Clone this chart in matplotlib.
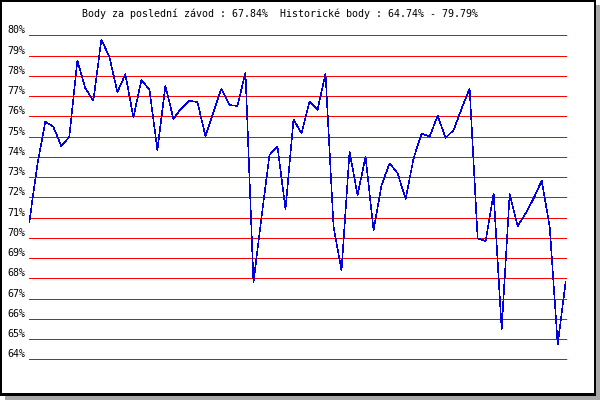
import numpy as np
import matplotlib
matplotlib.use('Agg')
import matplotlib.pyplot as plt
from matplotlib.patches import Rectangle

# values (percent per race)
scores = [70.77, 73.6, 75.73, 75.49, 74.52, 74.99, 78.75, 77.38, 76.77, 79.79,
          78.94, 77.20, 78.08, 75.95, 77.79, 77.33, 74.34, 77.51, 75.87, 76.40,
          76.77, 76.70, 75.03, 76.2, 77.37, 76.56, 76.51, 78.17, 67.80, 71.0,
          74.09, 74.50, 71.41, 75.85, 75.16, 76.74, 76.31, 78.12, 70.55, 68.38,
          74.25, 72.11, 74.00, 70.38, 72.6, 73.68, 73.19, 71.92, 73.92, 75.16,
          74.99, 76.03, 74.94, 75.32, 76.38, 77.37, 69.97, 69.84, 72.19, 65.48,
          72.16, 70.58, 71.21, 71.95, 72.82, 70.55, 64.74, 67.84]
levels = list(range(64, 81))
level_labels = [f"{v}%" for v in levels]
title = "Body za poslední závod : 67.84%  Historické body : 64.74% - 79.79%"

W, H = 600, 400
FONT = 'DejaVu Sans Mono'
FS = 7.2


def fx(px):
    return px / W


def fy(py):
    return 1 - py / H


fig = plt.figure(figsize=(6, 4), dpi=100)
fig.patch.set_facecolor('white')

# shadow + black frame
fig.patches.append(Rectangle((fx(5), 0), 1 - fx(5), 4 / H, transform=fig.transFigure,
                             facecolor='#a8a8a8', edgecolor='none', zorder=-2))
fig.patches.append(Rectangle((fx(596), 0), 1 - fx(596), fy(5), transform=fig.transFigure,
                             facecolor='#a8a8a8', edgecolor='none', zorder=-2))
fig.patches.append(Rectangle((0, fy(396)), fx(596), 1 - fy(396), transform=fig.transFigure,
                             facecolor='black', edgecolor='none', zorder=-2))
fig.patches.append(Rectangle((fx(2), fy(393)), fx(594) - fx(2), fy(2) - fy(393),
                             transform=fig.transFigure, facecolor='white',
                             edgecolor='none', zorder=-1))

left, right = 29.3, 565.7
top, bottom = 35.3, 359.3
ax = fig.add_axes([fx(left), fy(bottom), fx(right) - fx(left), fy(top) - fy(bottom)])
ax.set_zorder(1)
ax.patch.set_alpha(0)
for s in ax.spines.values():
    s.set_visible(False)

x = np.arange(len(scores))
ax.set_xlim(0, len(scores) - 1)
ax.set_ylim(64, 80)

for v in levels:
    ax.axhline(v, color='#ff0000', lw=0.6, antialiased=False, zorder=1,
               clip_on=False, solid_capstyle='butt')
ax.plot(x, scores, color='#0000dd', lw=0.4, antialiased=False, zorder=2,
        clip_on=False, solid_capstyle='butt')

ax.set_xticks([])
ax.set_yticks(levels)
ax.set_yticklabels(level_labels, fontfamily=FONT, fontsize=FS, va='bottom')
ax.tick_params(axis='y', length=0, pad=2.5)

fig.text(fx(280), fy(13.5), title, ha='center', va='center',
         fontfamily=FONT, fontsize=FS)

fig.savefig('out.png', dpi=100)
